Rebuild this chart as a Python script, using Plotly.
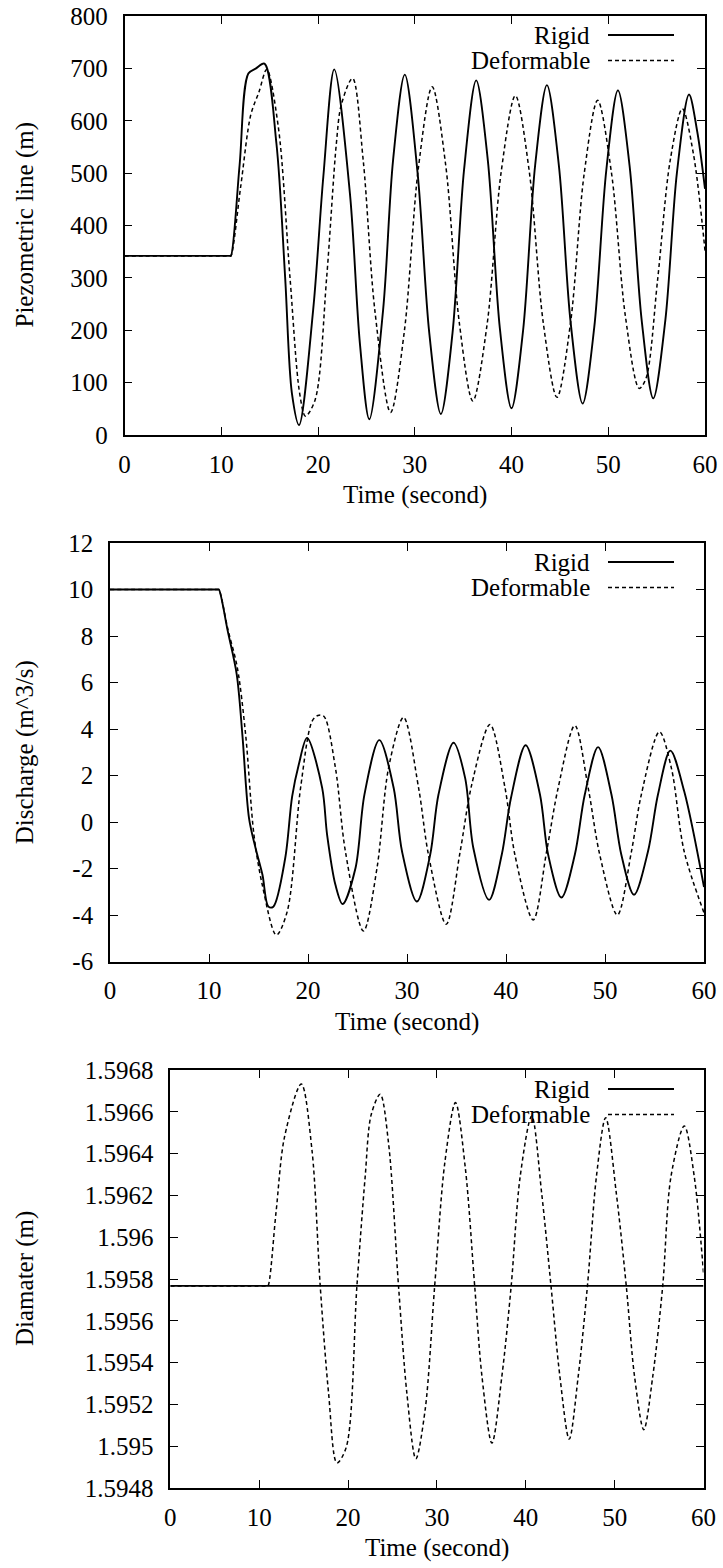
import plotly.graph_objects as go

W, H = 723, 1568

# ---------------- data ----------------
series_names = ["Rigid", "Deformable"]
x_title = "Time (second)"
y_titles = ["Piezometric line (m)", "Discharge (m^3/s)", "Diamater (m)"]
x_tick_vals = [0, 10, 20, 30, 40, 50, 60]

# Piezometric line
head_rigid_t = [0, 10.9, 11.0, 11.9, 12.8, 13.6, 14.46, 15.7, 16.6, 17.3, 18.04, 19.5, 20.55, 21.68,
                23.3, 24.33, 25.3, 26.73, 27.76, 28.97, 30.3, 31.5, 32.7, 33.9, 35.1, 36.35, 37.55,
                38.8, 40.0, 41.2, 42.45, 43.66, 44.9, 46.1, 47.35, 48.55, 49.8, 51.0, 52.2, 53.45,
                54.65, 55.9, 57.1, 58.35, 59.2, 60.0]
head_rigid = [342, 342, 342, 516, 690, 700, 709, 557, 302, 80, 19, 239, 493, 698,
              461, 175, 30, 239, 525, 688, 499, 195, 40, 194, 507, 677, 525,
              203, 51, 200, 516, 668, 514, 217, 60, 205, 506, 658, 515, 220,
              70, 219, 501, 650, 579, 470]
head_def_t = [0, 10.9, 11.0, 12.0, 13.06, 13.9, 14.7, 15.9, 17.1, 18.1, 18.7, 19.7, 20.9, 21.9,
              22.4, 23.57, 24.67, 25.87, 27.5, 28.93, 30.37, 31.8, 33.2, 34.6, 36.0, 37.47, 38.93,
              40.4, 41.83, 43.27, 44.7, 46.1, 47.5, 48.9, 50.33, 51.77, 53.2, 53.9, 55.1, 56.4,
              57.66, 58.8, 60.0]
head_def = [342, 342, 342, 473, 612, 655, 698, 588, 302, 80, 36, 67, 302, 557,
            630, 681, 525, 239, 43, 199, 509, 665, 515, 215, 65, 210, 502,
            648, 504, 216, 72, 214, 497, 639, 501, 227, 89, 108, 296, 524,
            623, 537, 352]
head_ticks = [0, 100, 200, 300, 400, 500, 600, 700, 800]

# Discharge
q_rigid_t = [0, 10.9, 11.0, 11.9, 12.8, 13.37, 14.04, 14.7, 15.4, 16.0, 16.5, 17.7, 18.4, 19.07,
             19.9, 21.43, 21.93, 22.77, 23.5, 24.8, 25.7, 27.2, 28.65, 29.5, 31.0, 32.34, 33.18,
             34.7, 35.87, 36.7, 38.29, 39.57, 40.5, 41.98, 43.43, 44.26, 45.6, 46.95, 47.96, 49.3,
             50.65, 51.65, 52.93, 54.34, 55.35, 56.6, 58.0, 60.0]
q_rigid = [10, 10, 10, 8.2, 6.35, 3.76, 0.17, -1.12, -2.27, -3.64, -3.64, -1.55, 1.1, 2.47,
           3.62, 1.47, -0.55, -2.7, -3.53, -1.98, 1.18, 3.52, 1.47, -1.27, -3.42, -1.41, 1.18,
           3.41, 1.9, -1.12, -3.35, -1.41, 1.03, 3.3, 1.18, -1.41, -3.25, -1.41, 1.18, 3.22,
           1.18, -1.41, -3.13, -1.27, 1.18, 3.07, 1.32, -2.8]
q_def_t = [0, 10.9, 11.0, 11.9, 12.86, 13.7, 14.54, 15.38, 16.8, 17.9, 19.25, 20.42, 21.0, 21.6,
           22.77, 23.78, 25.6, 26.97, 28.14, 29.65, 31.17, 32.17, 33.96, 35.37, 36.54, 38.38, 39.9,
           40.9, 42.75, 44.1, 45.27, 46.95, 48.3, 49.47, 51.25, 52.67, 53.67, 55.5, 56.7, 58.0,
           60.0]
q_def = [10, 10, 10, 8.3, 6.64, 3.76, -0.55, -2.7, -4.86, -3.85, 1.47, 4.34, 4.58, 4.55,
         2.33, -1.27, -4.69, -1.98, 2.33, 4.5, 1.47, -1.41, -4.4, -1.27, 1.61, 4.19, 1.47,
         -1.41, -4.21, -1.27, 1.47, 4.15, 1.47, -1.41, -4.0, -1.27, 1.18, 3.88, 2.33, -1.27,
         -3.9]
q_ticks = [-6, -4, -2, 0, 2, 4, 6, 8, 10, 12]
q_tick_text = ["-6", "-4", "-2", "0", "2", "4", "6", "8", "10", "12"]

# Diameter
d_rigid_t = [0, 60]
d_rigid = [1.595767, 1.595767]
d_def_t = [0, 10.9, 11.0, 11.9, 12.86, 14.74, 15.94, 16.87, 17.81, 18.75, 19.8, 21.0, 21.93, 22.6,
           23.62, 24.56, 25.68, 26.62, 27.63, 28.68, 29.75, 30.9, 32.09, 33.2, 34.25, 35.07, 36.19,
           37.31, 38.36, 39.37, 40.67, 41.79, 42.84, 43.84, 44.89, 45.9, 46.94, 47.95, 48.99,
           50.19, 51.31, 52.24, 53.28, 54.29, 55.41, 56.34, 57.84, 58.96, 60.0]
d_def = [1.595767, 1.595767, 1.595767, 1.59612, 1.596481, 1.596733, 1.596418, 1.595767, 1.595254,
         1.59492, 1.594995, 1.595767, 1.596290, 1.596585, 1.596684, 1.596449, 1.595767, 1.595254,
         1.59494, 1.595175, 1.595767, 1.59636, 1.596644, 1.59633, 1.595767, 1.595334, 1.595015,
         1.595334, 1.595767, 1.596290, 1.59658, 1.596210, 1.595767, 1.595334, 1.595034,
         1.595334, 1.595767, 1.596290, 1.596572, 1.596210, 1.595767, 1.595334, 1.595079,
         1.595334, 1.595767, 1.596290, 1.596532, 1.596290, 1.595828]
d_ticks = [1.5948, 1.595, 1.5952, 1.5954, 1.5956, 1.5958, 1.596, 1.5962, 1.5964, 1.5966, 1.5968]
d_tick_text = ["1.5948", "1.595", "1.5952", "1.5954", "1.5956", "1.5958", "1.596",
               "1.5962", "1.5964", "1.5966", "1.5968"]

# ---------------- layout helpers ----------------
FONT = "Liberation Serif, Times New Roman, Times, serif"
FS = 25

def px_x(p):
    return p / W

def px_y(p):
    return 1 - p / H

# panel boxes in pixels: left, right, top, bottom
boxes = [(124.5, 705, 16, 435), (110, 704, 543, 961.5), (170.3, 703.5, 1070, 1488)]
y_ranges = [[0, 800], [-6, 12], [1.5948, 1.5968]]

fig = go.Figure()

panels = [
    (head_rigid_t, head_rigid, head_def_t, head_def),
    (q_rigid_t, q_rigid, q_def_t, q_def),
    (d_rigid_t, d_rigid, d_def_t, d_def),
]

for i, (rt, rv, dt, dv) in enumerate(panels):
    xa = "x" if i == 0 else f"x{i+1}"
    ya = "y" if i == 0 else f"y{i+1}"
    fig.add_trace(go.Scatter(x=rt, y=rv, mode="lines", name=series_names[0], showlegend=False,
                             line=dict(color="black", width=1.9, shape="spline", smoothing=0.9),
                             xaxis=xa, yaxis=ya))
    fig.add_trace(go.Scatter(x=dt, y=dv, mode="lines", name=series_names[1], showlegend=False,
                             line=dict(color="black", width=1.5, dash="4px,3px", shape="spline",
                                       smoothing=0.9),
                             xaxis=xa, yaxis=ya))

axis_common = dict(showline=True, linecolor="black", linewidth=1.6, mirror="ticks",
                   ticks="inside", ticklen=8, tickwidth=1.3, tickcolor="black",
                   showgrid=False, zeroline=False, automargin=False,
                   tickfont=dict(family=FONT, size=FS, color="black"))

layout_axes = {}
annotations = []
shapes = []
for i, (l, r, t, b) in enumerate(boxes):
    suffix = "" if i == 0 else str(i + 1)
    layout_axes[f"xaxis{suffix}"] = dict(axis_common, domain=[px_x(l), px_x(r)], range=[0, 60],
                                         tickvals=x_tick_vals, anchor=f"y{suffix}",
                                         ticklabelstandoff=6)
    if i == 0:
        ytv, ytt = head_ticks, [str(v) for v in head_ticks]
    elif i == 1:
        ytv, ytt = q_ticks, q_tick_text
    else:
        ytv, ytt = d_ticks, d_tick_text
    layout_axes[f"yaxis{suffix}"] = dict(axis_common, domain=[px_y(b), px_y(t)], range=y_ranges[i],
                                         tickvals=ytv, ticktext=ytt, anchor=f"x{suffix}",
                                         ticklabelstandoff=10)
    # axis titles
    annotations.append(dict(text=x_title, x=px_x((l + r) / 2), y=px_y(b + 60), xref="paper",
                            yref="paper", showarrow=False, xanchor="center", yanchor="middle",
                            font=dict(family=FONT, size=FS, color="black")))
    annotations.append(dict(text=y_titles[i], x=px_x(25), y=px_y((t + b) / 2), xref="paper",
                            yref="paper", showarrow=False, xanchor="center", yanchor="middle",
                            textangle=-90, font=dict(family=FONT, size=FS, color="black")))
    # key (gnuplot style: text then line sample)
    for k, name in enumerate(series_names):
        yy = t + 19 + 25.5 * k
        annotations.append(dict(text=name, x=px_x(592), y=px_y(yy), xref="paper", yref="paper",
                                showarrow=False, xanchor="right", yanchor="middle",
                                font=dict(family=FONT, size=FS, color="black")))
        shapes.append(dict(type="line", xref="paper", yref="paper", x0=px_x(608), x1=px_x(674),
                           y0=px_y(yy), y1=px_y(yy),
                           line=dict(color="black", width=1.9 if k == 0 else 1.5,
                                     dash="solid" if k == 0 else "4px,3px")))

fig.update_layout(width=W, height=H, autosize=False, margin=dict(l=0, r=0, t=0, b=0, pad=0),
                  paper_bgcolor="white", plot_bgcolor="white", showlegend=False,
                  font=dict(family=FONT, size=FS, color="black"),
                  annotations=annotations, shapes=shapes, **layout_axes)

fig.write_html("out.html", config={"displayModeBar": False},
               post_script="document.body.style.margin='0px';document.body.style.overflow='hidden';")
